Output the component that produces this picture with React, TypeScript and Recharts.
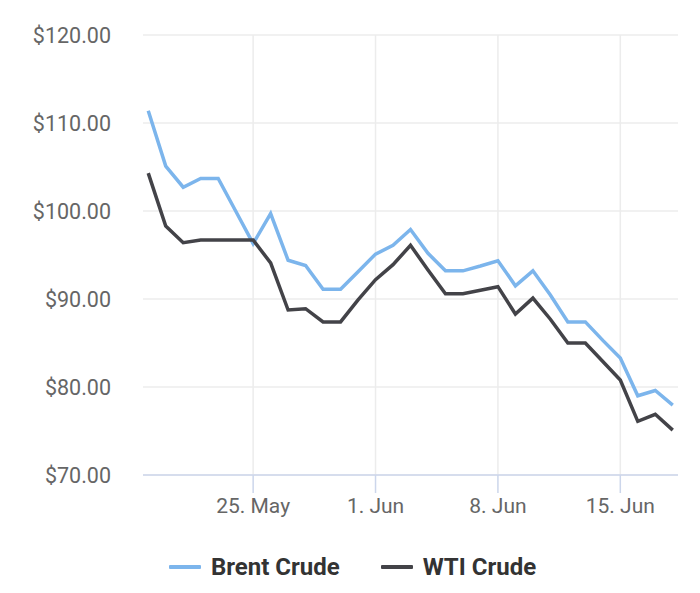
import { LineChart, Line, XAxis, YAxis, CartesianGrid, Legend } from 'recharts'

const dates = [
  '2022-05-19', '2022-05-20', '2022-05-21', '2022-05-22', '2022-05-23', '2022-05-24',
  '2022-05-25', '2022-05-26', '2022-05-27', '2022-05-28', '2022-05-29', '2022-05-30',
  '2022-05-31', '2022-06-01', '2022-06-02', '2022-06-03', '2022-06-04', '2022-06-05',
  '2022-06-06', '2022-06-07', '2022-06-08', '2022-06-09', '2022-06-10', '2022-06-11',
  '2022-06-12', '2022-06-13', '2022-06-14', '2022-06-15', '2022-06-16', '2022-06-17',
  '2022-06-18'
]

const brent = [
  111.4, 105.1, 102.7, 103.7, 103.7, 100.0, 96.3, 99.7, 94.4, 93.8, 91.1, 91.1,
  93.1, 95.1, 96.1, 97.9, 95.2, 93.2, 93.2, 93.75, 94.35, 91.5, 93.2, 90.45,
  87.4, 87.4, 85.3, 83.3, 79.0, 79.6, 77.95
]

const wti = [
  104.3, 98.3, 96.4, 96.7, 96.7, 96.7, 96.7, 94.1, 88.75, 88.9, 87.4, 87.4,
  89.9, 92.2, 93.9, 96.1, 93.3, 90.6, 90.6, 91.0, 91.4, 88.3, 90.1, 87.7,
  85.0, 85.0, 82.9, 80.8, 76.1, 76.9, 75.1
]

const tickDates = ['2022-05-25', '2022-06-01', '2022-06-08', '2022-06-15']
const tickLabels = ['25. May', '1. Jun', '8. Jun', '15. Jun']

const priceTicks = [70, 80, 90, 100, 110, 120]

const series = [
  { key: 'brent', name: 'Brent Crude', color: '#7cb5ec' },
  { key: 'wti', name: 'WTI Crude', color: '#434348' }
]

const DAY = 24 * 3600 * 1000
const toTime = (d: string) => Date.parse(d + 'T00:00:00Z')

const data = dates.map((d, i) => ({ t: toTime(d), brent: brent[i], wti: wti[i] }))
const xTicks = tickDates.map(toTime)
const xMin = toTime(dates[0]) - 0.3 * DAY
const xMax = toTime(dates[dates.length - 1]) + 0.3 * DAY

// vertical grid only at the date ticks, not at the plot edges
const verticalLines = ({ offset }: any) =>
  xTicks.map((t) => offset.left + ((t - xMin) / (xMax - xMin)) * offset.width)

function ChartLegend() {
  return (
    <div
      style={{
        height: 40,
        display: 'flex',
        justifyContent: 'center',
        alignItems: 'center',
        gap: 41,
        paddingLeft: 5,
        fontFamily: 'Roboto',
        fontWeight: 700,
        fontSize: 24,
        color: '#333333'
      }}
    >
      {series.map((s) => (
        <div key={s.key} style={{ display: 'flex', alignItems: 'center' }}>
          <span style={{ width: 32, height: 4, background: s.color, marginRight: 10, borderRadius: 1 }} />
          <span>{s.name}</span>
        </div>
      ))}
    </div>
  )
}

export default function App() {
  return (
    <div style={{ position: 'absolute', left: 0, top: 0, width: 700, height: 593, background: '#fff' }}>
      <LineChart
        width={700}
        height={593}
        data={data}
        margin={{ top: 35, right: 22, bottom: 18, left: 0 }}
        style={{ fontFamily: 'Roboto' }}
      >
        <CartesianGrid stroke="#ececec" strokeWidth={1.5} verticalCoordinatesGenerator={verticalLines} />
        <XAxis
          dataKey="t"
          type="number"
          scale="linear"
          domain={[xMin, xMax]}
          ticks={xTicks}
          tickFormatter={(v) => tickLabels[xTicks.indexOf(v)] ?? ''}
          height={60}
          stroke="#ccd6eb"
          strokeWidth={1.5}
          tickSize={18}
          tickMargin={5}
          tick={{ fontSize: 21, fill: '#666666' }}
          tickLine={{ stroke: '#ccd6eb', strokeWidth: 1.5 }}
        />
        <YAxis
          domain={[70, 120]}
          ticks={priceTicks}
          tickFormatter={(v) => `$${v.toFixed(2)}`}
          width={143}
          axisLine={false}
          tickLine={false}
          tickSize={0}
          tickMargin={32}
          tick={{ fontSize: 21.5, fill: '#666666' }}
        />
        <Legend
          verticalAlign="bottom"
          content={() => <ChartLegend />}
          wrapperStyle={{ top: 547, bottom: 'auto', left: 0, width: 700 }}
        />
        {series.map((s) => (
          <Line
            key={s.key}
            type="linear"
            dataKey={s.key}
            name={s.name}
            stroke={s.color}
            strokeWidth={3.5}
            dot={false}
            activeDot={false}
            isAnimationActive={false}
          />
        ))}
      </LineChart>
    </div>
  )
}
